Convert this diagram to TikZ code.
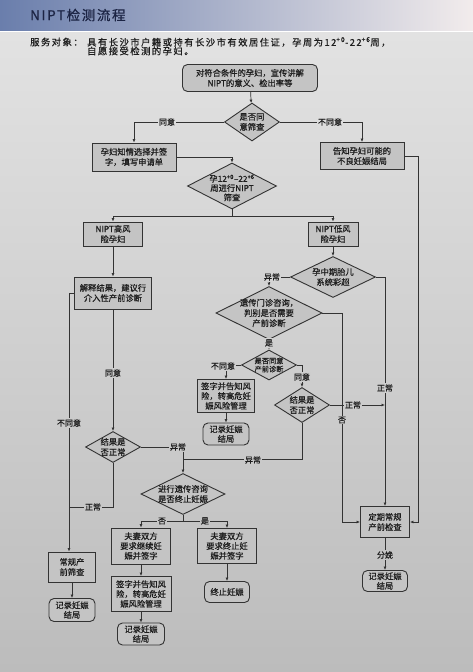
\documentclass[tikz,border=0pt]{standalone}
\usepackage{fontspec}
\setmainfont{Noto Sans CJK SC}[FakeBold=0.7]
\usetikzlibrary{shapes.geometric,arrows.meta}
\definecolor{bgtop}{HTML}{E2E2E2}
\definecolor{bgbot}{HTML}{BCBCBC}
\definecolor{hdrA}{HTML}{6A7EAC}
\definecolor{hdrB}{HTML}{F2ECEC}
\definecolor{boxf}{HTML}{C4C4C4}
\definecolor{ink}{HTML}{1E1E1E}
\definecolor{edge}{HTML}{333333}
\definecolor{titlec}{HTML}{1C2444}
\tikzset{
  sz/.style 2 args={minimum width=#1pt, minimum height=#2pt},
  base/.style={draw=edge, line width=0.9pt, fill=boxf, text=ink, align=center, inner sep=1pt,
    font=\fontsize{8.3}{10.2}\selectfont},
  box/.style={base, rectangle},
  rbox/.style={base, rectangle, rounded corners=5pt},
  dia/.style={base, diamond, inner sep=0pt},
  dtxt/.style={text=ink, align=center, inner sep=0pt, font=\fontsize{8.3}{10.2}\selectfont},
  ln/.style={draw=edge, line width=0.7pt},
  arr/.style={ln, -{Latex[length=3.5pt,width=3pt]}},
  lab/.style={fill=bgbot!#1!bgtop, text=ink, inner sep=1pt, font=\fontsize{8}{9}\selectfont},
}
\begin{document}
\begin{tikzpicture}[x=1pt,y=-1pt]
\useasboundingbox (0,0) rectangle (473,672);
% background
\shade[top color=bgtop, bottom color=bgbot] (0,32) rectangle (473,672);
\fill[white] (0,30) rectangle (473,32);
\shade[left color=hdrA, right color=hdrB] (0,0) rectangle (473,30);
\node[anchor=west, text=titlec, inner sep=0pt, font=\fontsize{13.5}{14}\selectfont\addfontfeature{LetterSpace=12}] (title) at (30,15) {NIPT检测流程};
\node[anchor=west, text=ink, inner sep=0pt, font=\fontsize{9.3}{10}\selectfont\addfontfeature{LetterSpace=16}] (svc) at (30,42) {服务对象：};
\node[anchor=west, text=ink, inner sep=0pt, font=\fontsize{9.3}{10}\selectfont\addfontfeature{LetterSpace=16}] (svc1) at (87,42) {具有长沙市户籍或持有长沙市有效居住证，孕周为12\textsuperscript{+0}-22\textsuperscript{+6}周，};
\node[anchor=west, text=ink, inner sep=0pt, font=\fontsize{9.3}{10}\selectfont\addfontfeature{LetterSpace=16}] (svc2) at (87,51) {自愿接受检测的孕妇。};

% nodes
\node[rbox, sz={135}{27}] (start) at (250,78) {对符合条件的孕妇，宣传讲解\\NIPT的意义、检出率等};
\node[dia, sz={55}{38}] (d1) at (252,122) {};
\node[dtxt] (d1t) at (d1) {是否同\\意筛查};
\node[box, sz={84}{28}] (b1) at (134,157) {孕妇知情选择并签\\字，填写申请单};
\node[box, sz={84}{27}] (b2) at (362,156) {告知孕妇可能的\\不良妊娠结局};
\node[dia, sz={89}{46}] (d2) at (232,186) {};
\node[dtxt, font=\fontsize{8.3}{9.4}\selectfont] (d2t) at (232,188) {孕12\textsuperscript{+0}–22\textsuperscript{+6}\\周进行NIPT\\筛查};
\node[box, sz={59}{24}] (b3) at (113,234) {NIPT高风\\险孕妇};
\node[box, sz={50}{24}] (b4) at (333,234) {NIPT低风\\险孕妇};
\node[box, sz={77}{32}] (b5) at (113,293) {解释结果，建议行\\介入性产前诊断};
\node[dia, sz={85}{41}] (d3) at (333,277) {};
\node[dtxt] (d3t) at (d3) {孕中期胎儿\\系统彩超};
\node[dia, sz={106}{53}] (d4) at (269,313) {};
\node[dtxt] (d4t) at (d4) {遗传门诊咨询，\\判别是否需要\\产前诊断};
\node[dia, sz={55}{30}] (d5) at (269,365) {};
\node[dtxt, font=\fontsize{7.2}{8.2}\selectfont] (d5t) at (d5) {是否同意\\产前诊断};
\node[box, sz={57}{33}, font=\fontsize{8.3}{9.8}\selectfont] (b6) at (226,396) {签字并告知风\\险，转高危妊\\娠风险管理};
\node[rbox, sz={46}{22}, font=\fontsize{8.3}{9.6}\selectfont] (r1) at (226,434) {记录妊娠\\结局};
\node[dia, sz={55}{35}] (d6) at (302,405) {};
\node[dtxt] (d6t) at (d6) {结果是\\否正常};
\node[dia, sz={55}{31}] (d7) at (113,447) {};
\node[dtxt] (d7t) at (d7) {结果是\\否正常};
\node[dia, sz={84}{41}] (d8) at (183,494) {};
\node[dtxt] (d8t) at (d8) {进行遗传咨询\\是否终止妊娠};
\node[box, sz={59}{36}, font=\fontsize{8.3}{9.8}\selectfont] (b7) at (141,546) {夫妻双方\\要求继续妊\\娠并签字};
\node[box, sz={59}{35}, font=\fontsize{8.3}{9.8}\selectfont] (b8) at (227,546) {夫妻双方\\要求终止妊\\娠并签字};
\node[box, sz={60}{35}, font=\fontsize{8.3}{9.8}\selectfont] (b9) at (141,594) {签字并告知风\\险，转高危妊\\娠风险管理};
\node[rbox, sz={47}{22}, font=\fontsize{8.3}{9.6}\selectfont] (r2) at (141,634) {记录妊娠\\结局};
\node[rbox, sz={45}{21}] (r3) at (227,592) {终止妊娠};
\node[box, sz={47}{30}] (b10) at (72,567) {常规产\\前筛查};
\node[rbox, sz={46}{23}, font=\fontsize{8.3}{9.6}\selectfont] (r4) at (72,610) {记录妊娠\\结局};
\node[box, sz={49}{31}] (b11) at (385,522) {定期常规\\产前检查};
\node[rbox, sz={45}{21}, font=\fontsize{8.3}{9.6}\selectfont] (r5) at (385,581) {记录妊娠\\结局};

% junction coordinates
\coordinate (s1) at (232,216);
\coordinate (s2) at (183,521);
\coordinate (j8) at (69,293);
\coordinate (j9) at (69,507);
\coordinate (j11) at (183,459);
\coordinate (k18) at (342,522);
\coordinate (k24) at (418,522);

% connectors
\draw[arr] (start) -- (d1);
\draw[arr] (d1.west) -| (b1.north);
\draw[arr] (d1.east) -| (b2.north);
\draw[arr] (b1.east) -| (d2.north);
\draw[ln] (d2.south) -- (s1);
\draw[arr] (s1) -| (b3.north);
\draw[arr] (s1) -| (b4.north);
\draw[arr] (b3) -- (b5);
\draw[arr] (b4) -- (d3);
\draw[arr] (b5) -- (d7);
\draw[arr] (b5.west) -- (j8) -- (j8 |- b10.north);
\draw[ln] (d7.south) |- (j9);
\draw[arr] (d7.east) -| (d8.north);
\draw[ln] (d6.south) |- (j11);
\draw[ln] (d8.south) -- (s2);
\draw[arr] (s2) -| (b7.north);
\draw[arr] (s2) -| (b8.north);
\draw[arr] (b7) -- (b9);
\draw[arr] (b9) -- (r2);
\draw[arr] (b8) -- (r3);
\draw[arr] (b10) -- (r4);
\draw[arr] (d3.west) -| (d4.north);
\draw[arr] (d3.east) -| (b11.north);
\draw[arr] (d4.east) -| (k18) -- (b11.west);
\draw[arr] (d4) -- (d5);
\draw[arr] (d5.west) -| (b6.north);
\draw[arr] (d5.east) -| (d6.north);
\draw[arr] (d6.east) -- (d6.east -| b11.north);
\draw[arr] (b6) -- (r1);
\draw[arr] (b2.east) -| (k24) -- (b11.east);
\draw[arr] (b11) -- (r5);

% connector labels
\node[lab=14] (l1) at (167,122) {同意};
\node[lab=14] (l2) at (330,122) {不同意};
\node[lab=53] (l3) at (113,373) {同意};
\node[lab=61] (l4) at (69,423) {不同意};
\node[lab=74] (l5) at (93,507) {正常};
\node[lab=65] (l6) at (178,447) {异常};
\node[lab=67] (l7) at (253,460) {异常};
\node[lab=76] (l8) at (162,521) {否};
\node[lab=76] (l9) at (205,521) {是};
\node[lab=38] (l10) at (272,277) {异常};
\node[lab=56] (l11) at (385,388) {正常};
\node[lab=61] (l12) at (342,420) {否};
\node[lab=49] (l13) at (269,343) {是};
\node[lab=52] (l14) at (223,366) {不同意};
\node[lab=54] (l15) at (302,377) {同意};
\node[lab=58] (l16) at (353,405) {正常};
\node[lab=82] (l17) at (385,555) {分娩};
\end{tikzpicture}
\end{document}
